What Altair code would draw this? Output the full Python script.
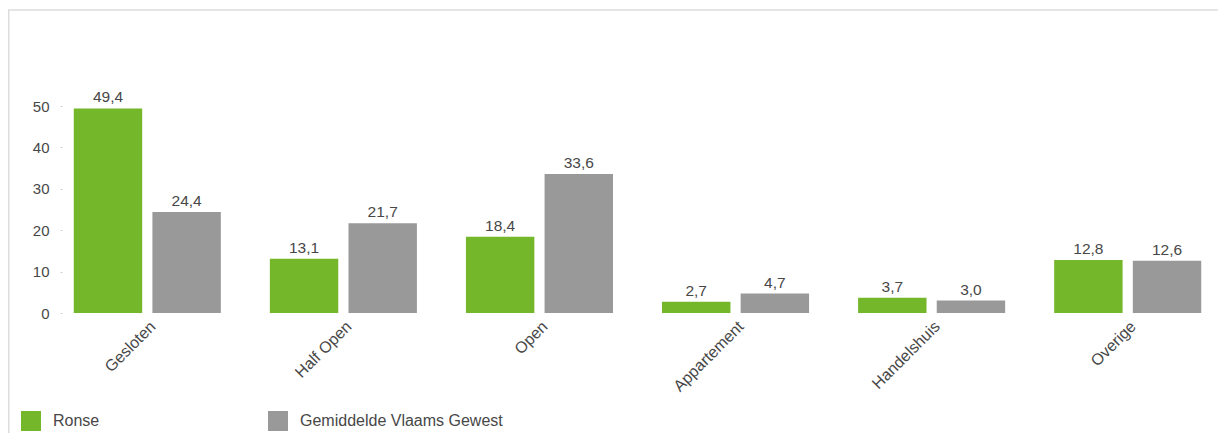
import altair as alt
import pandas as pd

categories = ["Gesloten", "Half Open", "Open", "Appartement", "Handelshuis", "Overige"]
series = ["Ronse", "Gemiddelde Vlaams Gewest"]
ronse = [49.4, 13.1, 18.4, 2.7, 3.7, 12.8]
vlaams = [24.4, 21.7, 33.6, 4.7, 3.0, 12.6]
colors = ["#74b72a", "#999999"]
y_ticks = [0, 10, 20, 30, 40, 50]

rows = []
for i, c in enumerate(categories):
    for s, vals in zip(series, [ronse, vlaams]):
        v = vals[i]
        rows.append({"cat": c, "series": s, "value": v,
                     "label": f"{v:.1f}".replace(".", ",")})
df = pd.DataFrame(rows)

FONT = "Liberation Sans"
TXT = "#474747"

base = alt.Chart(df).encode(
    x=alt.X("cat:N", sort=categories,
            scale=alt.Scale(paddingInner=0.25, paddingOuter=0.06),
            axis=alt.Axis(title=None, labelAngle=-45, labelAlign="right",
                          labelBaseline="top", labelPadding=5, ticks=False,
                          domain=False, labelFont=FONT, labelFontSize=16,
                          labelColor=TXT)),
    xOffset=alt.XOffset("series:N", sort=series,
                        scale=alt.Scale(paddingInner=0.13, paddingOuter=0)),
)

bars = base.mark_bar().encode(
    y=alt.Y("value:Q", scale=alt.Scale(domain=[0, 50], nice=False),
            axis=alt.Axis(title=None, values=y_ticks, grid=False, domain=False,
                          tickSize=2, tickColor="#cccccc", labelPadding=11,
                          labelFont=FONT, labelFontSize=15, labelColor=TXT)),
    color=alt.Color("series:N", sort=series,
                    scale=alt.Scale(domain=series, range=colors),
                    legend=alt.Legend(title=None, orient="none", legendX=-41,
                                      legendY=305, direction="horizontal",
                                      symbolType="square", symbolSize=400,
                                      symbolStrokeWidth=0, labelOffset=12,
                                      columnPadding=168, labelLimit=400,
                                      labelFont=FONT, labelFontSize=16,
                                      labelColor=TXT)),
)

texts = base.mark_text(baseline="alphabetic", dy=-6, font=FONT, fontSize=15.5,
                       color=TXT).encode(
    y=alt.Y("value:Q"),
    text="label:N",
)

one = pd.DataFrame({"k": [0]})
top_rule = alt.Chart(one).mark_rule(color="#dcdcdc", strokeWidth=1.5).encode(
    x=alt.value(-54), x2=alt.value(1170), y=alt.value(-96))
left_rule = alt.Chart(one).mark_rule(color="#dcdcdc", strokeWidth=1.5).encode(
    x=alt.value(-53.3), y=alt.value(-96), y2=alt.value(400))

chart = alt.layer(top_rule, left_rule, bars, texts).properties(
    width=1151, height=207,
    autosize=alt.AutoSizeParams(type="none"),
    padding={"left": 54, "top": 98, "right": 5, "bottom": 122},
).configure_view(stroke=None)

chart.save("out.html", embed_options={"renderer": "svg", "actions": False})
